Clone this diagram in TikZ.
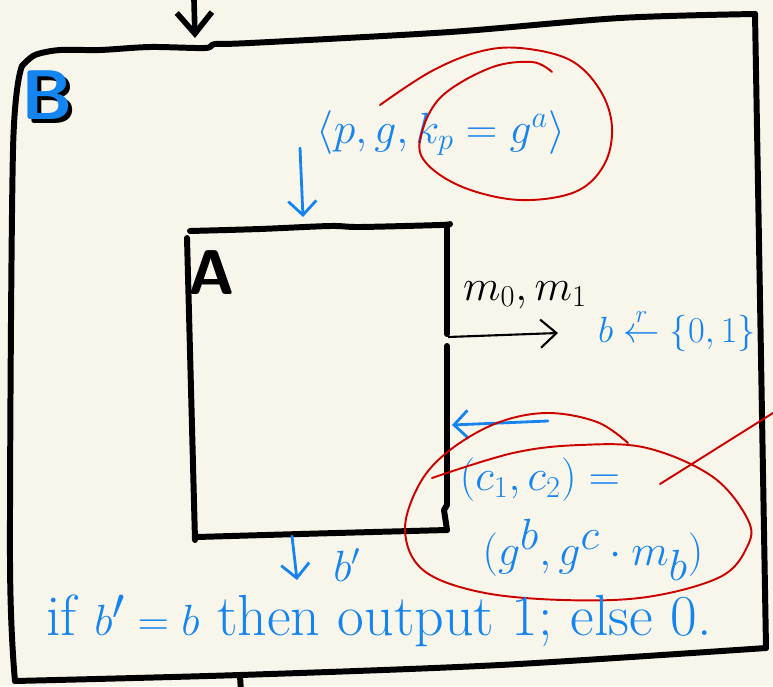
\documentclass[tikz,border=0pt]{standalone}
\usepackage{amsmath,amssymb}
\usepackage{tikz}
\usetikzlibrary{arrows.meta}
\definecolor{paper}{RGB}{248,246,234}
\definecolor{inkblue}{RGB}{20,132,240}
\definecolor{inkred}{RGB}{205,0,0}

\begin{document}
\begin{tikzpicture}[x=0.02cm,y=-0.02cm,every node/.style={font=\fontsize{24}{28}\selectfont},
  boxline/.style={line width=3.4pt,line cap=round,line join=round},
  bluepen/.style={inkblue,line width=1.6pt,line cap=round},
  redpen/.style={inkred,line width=1.1pt,line cap=round},
  penarrow/.style={-{Straight Barb[length=8pt,width=16pt]}}]
  \fill[paper] (0,0) rectangle (773,686);
  \useasboundingbox (0,0) rectangle (773,686);
  % outer box (adversary B)
  \draw[boxline] plot[smooth,tension=0.5] coordinates {(755,14) (620,18) (450,32) (250,43) (215,44) (205,48) (150,47) (100,50) (60,50) (35,55) (22,66)};
  \draw[boxline] plot[smooth,tension=0.5] coordinates {(22,66) (13,150) (10,560) (15,681)};
  \draw[boxline] plot[smooth,tension=0.5] coordinates {(15,681) (240,675) (500,665) (766,648)};
  \draw[boxline] plot[smooth,tension=0.5] coordinates {(755,14) (760,300) (766,648)};
  \coordinate (inB) at (194,0);
  \coordinate (inBtip) at (195,38);
  \draw[line width=3.2pt,-{Straight Barb[length=12pt,width=20pt]}] (inB) -- (inBtip);
  \coordinate (outB) at (240,676);
  \coordinate (outBend) at (241,692);
  \draw[line width=3.4pt] (outB) -- (outBend);
  \node[inkblue,font=\fontsize{40}{44}\selectfont\sffamily\bfseries] (Blabel) at (47,97)
    {\rlap{\kern2.5pt\raisebox{-2pt}{\textcolor{black}{B}}}B};
  % inner box (A)
  \draw[boxline] plot[smooth,tension=0.5] coordinates {(190,231) (260,229) (330,226) (360,227) (440,225) (450,224)};
  \draw[boxline] (187,238) -- (195,540);
  \draw[boxline] plot[smooth,tension=0.5] coordinates {(197,537) (300,534) (447,530)};
  \draw[boxline] (447,226) -- (447,334);
  \draw[boxline] (447,346) -- (447,505) -- (444,510) -- (447,530);
  \node[font=\fontsize{36}{40}\selectfont\sffamily\bfseries] (Alabel) at (212,273) {A};
  % public key
  \node[inkblue,font=\fontsize{25}{29}\selectfont] (pk) at (441,133) {$\langle p, g, k_p = g^a\rangle$};
  \coordinate (pkA) at (300,148);
  \coordinate (pkAtip) at (303,217);
  \draw[bluepen,penarrow] (pkA) -- (pkAtip);
  \draw[redpen] plot[smooth,tension=0.6] coordinates {(380,105) (430,72) (478,52) (520,48) (570,60) (600,90) (612,127) (604,165) (575,192) (520,200) (465,188) (428,165) (420,140) (440,98) (490,68) (532,62) (552,72)};
  % messages
  \coordinate (mOut) at (448,337);
  \coordinate (mTip) at (558,333);
  \draw[line width=1.2pt,-{Straight Barb[length=9pt,width=16pt]}] (mOut) -- (mTip);
  \node[font=\fontsize{25}{29}\selectfont] (msgs) at (525,295) {$m_0, m_1$};
  \node[inkblue,font=\fontsize{20}{24}\selectfont] (coin) at (677,330) {$b \overset{r}{\leftarrow} \{0,1\}$};
  % challenge ciphertext
  \coordinate (cIn) at (548,421);
  \coordinate (cTip) at (452,425);
  \draw[bluepen,penarrow] (cIn) -- (cTip);
  \node[inkblue,font=\fontsize{25}{29}\selectfont] (cpair) at (540,480) {$(c_1, c_2) =$};
  \node[inkblue,font=\fontsize{36}{40}\selectfont] (cval) at (593,550) {$(g^b, g^c \cdot m_b)$};
  \draw[redpen] plot[smooth,tension=0.6] coordinates {(432,478) (513,453) (580,445) (647,448) (713,477) (748,520) (747,547) (720,577) (647,597) (563,600) (480,592) (423,570) (405,530) (420,483) (450,450) (497,423) (547,413) (597,422) (628,443)};
  \coordinate (slashA) at (660,484);
  \coordinate (slashB) at (773,413);
  \draw[redpen] (slashA) -- (slashB);
  % guess
  \coordinate (gOut) at (292,536);
  \coordinate (gTip) at (297,580);
  \draw[bluepen,penarrow] (gOut) -- (gTip);
  \node[inkblue,font=\fontsize{26}{30}\selectfont] (guess) at (347,565) {$b'$};
  \node[inkblue,font=\fontsize{33}{37}\selectfont] (verdict) at (379,621) {if $b'=b$ then output 1; else 0.};
\end{tikzpicture}
\end{document}
